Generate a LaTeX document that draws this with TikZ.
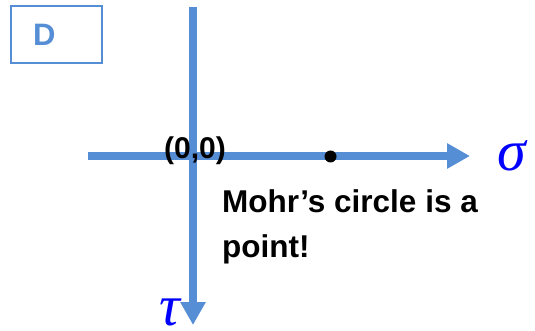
\documentclass[tikz,border=0pt]{standalone}
\definecolor{axisblue}{RGB}{85, 142, 213}
\definecolor{symblue}{RGB}{0, 0, 255}
\usepackage{fontspec}
\setmainfont{Liberation Sans}
\newfontfamily\symbolfont{Liberation Serif}
\usepackage{tikz}
\usetikzlibrary{arrows.meta, positioning}

\begin{document}
\begin{tikzpicture}[x=1pt, y=-1pt,
    axis/.style={draw=axisblue, line width=7.5pt, -{Triangle[length=23pt, width=24pt]}},
    greek/.style={text=symblue, inner sep=0pt, anchor=base, text depth=0pt,
                  font=\fontsize{58}{58}\symbolfont\itshape}]
  \useasboundingbox (0,0) rectangle (535,331);
  % tag box in the corner
  \node[draw=axisblue, line width=1.6pt, minimum width=91pt, minimum height=57pt,
        text width=47pt, inner xsep=22pt, align=left, text=axisblue,
        font=\fontsize{31}{31}\selectfont\bfseries] (tag) at (56.5,34.5) {D};
  % axes
  \coordinate (origin) at (193,156);
  \coordinate (top) at (193,7);
  \coordinate (left) at (88,156);
  \coordinate (sigmatip) at (470,156);
  \coordinate (tautip) at (193,325);
  \draw[axis] (left) -- (sigmatip);
  \draw[axis] (top) -- (tautip);
  \node[greek] (sigma) at (512,171) {σ};
  \node[greek] (tau) at (170,325) {τ};
  % the point
  \fill (330.5,156.5) circle[radius=6pt];
  \node[anchor=base, font=\fontsize{30}{30}\selectfont\bfseries] (zero) at (195,159) {(0,0)};
  \node[anchor=north west, inner sep=0pt, align=left,
        font=\fontsize{31.5}{45}\selectfont\bfseries] (note) at (222,189) {Mohr’s circle is a\\point!};
\end{tikzpicture}
\end{document}
